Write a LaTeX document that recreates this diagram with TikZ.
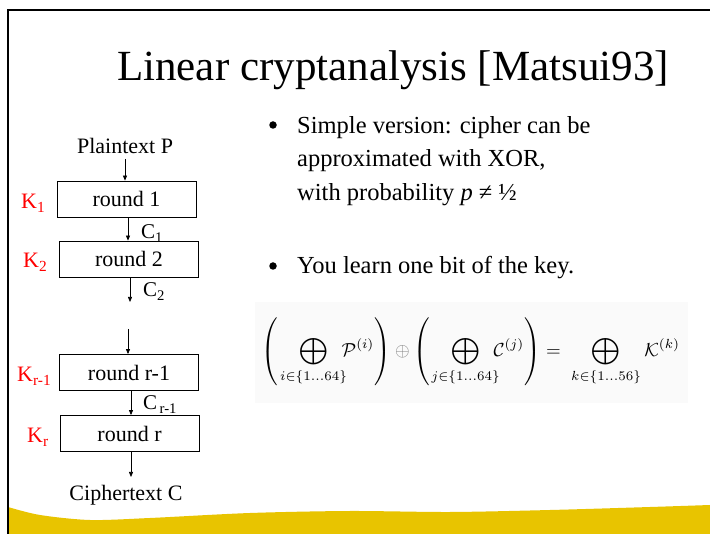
\documentclass[tikz,border=0pt]{standalone}
\usepackage{fontspec}
\setmainfont{Liberation Serif}
\usepackage{graphicx}
\usepackage{mathtools}
\usetikzlibrary{arrows.meta}
\definecolor{slideyellow}{RGB}{232,196,0}
\definecolor{keyred}{RGB}{255,0,0}
\tikzset{
  roundbox/.style={draw=black, line width=0.8pt, fill=white, minimum width=139pt, minimum height=36pt, inner sep=0pt, font=\fontsize{22}{26}\selectfont},
  dlabel/.style={anchor=base, inner sep=1pt, font=\fontsize{22}{26}\selectfont},
  clabel/.style={anchor=base west, inner sep=0pt, font=\fontsize{21}{25}\selectfont},
  klabel/.style={anchor=base west, inner sep=0pt, text=keyred, font=\fontsize{22}{26}\selectfont},
  bullettext/.style={anchor=base west, inner sep=0pt, font=\fontsize{24.5}{30}\selectfont},
  bulletdot/.style={circle, fill=black, inner sep=0pt, minimum size=7.5pt},
  arr/.style={line width=0.7pt, -{Triangle[length=5pt,width=4pt]}},
}
\begin{document}
\begin{tikzpicture}[x=1pt,y=-1pt]
\useasboundingbox (0,0) rectangle (710,534);
\fill[white] (0,0) rectangle (710,534);
% bottom yellow wave
\fill[slideyellow] plot[smooth] coordinates {(8,507) (40,515) (90,520) (150,518) (250,513) (350,511) (450,512) (550,510) (650,507) (710,505)} -- (710,534) -- (8,534) -- cycle;
% frame lines
\draw[line width=2pt] (8,534) -- (8,10) -- (710,10);
% title
\node[anchor=base, inner sep=0pt, font=\fontsize{43}{50}\selectfont] (title) at (393,81) {Linear cryptanalysis [Matsui93]};
% equation background
\fill[black!2] (255,302) rectangle (688,403);
% diagram labels (drawn before boxes so boxes cover them)
\node[dlabel] (pt) at (125,154) {Plaintext P};
\node[dlabel] (ct) at (126,501) {Ciphertext C};
\node[clabel] (c1) at (141,239) {C\textsubscript{1}};
\node[clabel] (c2) at (143,297) {C\textsubscript{2}};
\node[clabel] (cr) at (143,410) {C\textsubscript{\,r-1}};
% boxes
\node[roundbox] (r1) at (126.5,199) {round 1};
\node[roundbox] (r2) at (129,259) {round 2};
\node[roundbox] (rr1) at (129,372.5) {round r-1};
\node[roundbox] (rr) at (129.5,433.5) {round r};
% keys
\node[klabel] (k1) at (21,209) {K\textsubscript{1}};
\node[klabel] (k2) at (23,268) {K\textsubscript{2}};
\node[klabel] (kr1) at (17,382) {K\textsubscript{r-1}};
\node[klabel] (kr) at (27,443) {K\textsubscript{r}};
% connectors
\coordinate (ptout) at (125,159);
\coordinate (gapA) at (130,302);
\coordinate (gapB) at (128,329);
\coordinate (ctin) at (131,477);
\draw[arr] (ptout) -- (ptout |- r1.north);
\draw[arr] (128,0 |- r1.south) -- (128,0 |- r2.north);
\draw[arr] (130,0 |- r2.south) -- (gapA);
\draw[arr] (gapB) -- (gapB |- rr1.north);
\draw[arr] (131,0 |- rr1.south) -- (131,0 |- rr.north);
\draw[arr] (ctin |- rr.south) -- (ctin);
% bullets
\node[bulletdot] (b1) at (273,125) {};
\node[bullettext] (l1) at (297,134) {Simple version: cipher can be};
\node[bullettext] (l2) at (297,167) {approximated with XOR,};
\node[bullettext] (l3) at (297,201) {with probability \textit{p} ≠ ½};
\node[bulletdot] (b2) at (273,266) {};
\node[bullettext] (l4) at (297,274) {You learn one bit of the key.};
% equation
\node[inner sep=0pt] (eq) at (471,352) {\resizebox{418pt}{!}{$\displaystyle
\left(\mkern20mu\bigoplus_{\mathclap{i\in\{1\ldots64\}}}\;\;\mathcal{P}^{(i)}\right)
\mathbin{\textcolor{gray}{\oplus}}
\left(\mkern20mu\bigoplus_{\mathclap{j\in\{1\ldots64\}}}\;\;\mathcal{C}^{(j)}\right)
=\;\bigoplus_{k\in\{1\ldots56\}}\mathcal{K}^{(k)}$}};
\end{tikzpicture}
\end{document}
